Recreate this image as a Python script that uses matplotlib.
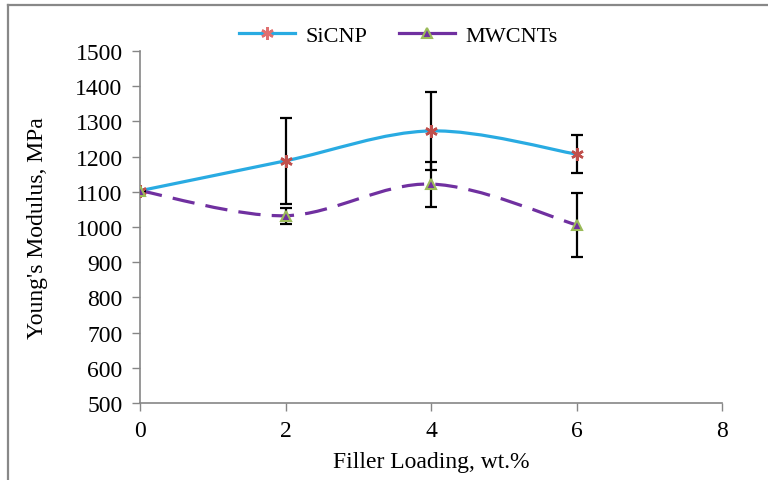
import matplotlib
matplotlib.use("Agg")
import matplotlib.pyplot as plt
from matplotlib.path import Path
from matplotlib.patches import PathPatch
from matplotlib.lines import Line2D

# ---- data ----
filler = [0, 2, 4, 6]
sicnp = [1103, 1188, 1273, 1207]
sicnp_err = [0, 122, 110, 55]
mwcnt = [1103, 1032, 1122, 1006]
mwcnt_err = [0, 23, 64, 90]
series_labels = ["SiCNP", "MWCNTs"]
xticks = [0, 2, 4, 6, 8]
yticks = list(range(500, 1501, 100))

plt.rcParams['font.family'] = ['Liberation Serif', 'DejaVu Serif']

W, H = 768, 481
fig = plt.figure(figsize=(W / 100, H / 100), dpi=100)
ax = fig.add_axes([140 / W, 1 - 404 / H, (722 - 140) / W, (404 - 52) / H])


def smooth_path(xs, ys):
    """Excel-style smoothed line: cubic Bezier through the data points."""
    verts = [(xs[0], ys[0])]
    codes = [Path.MOVETO]
    n = len(xs)
    for i in range(n - 1):
        x0, y0 = (xs[i - 1], ys[i - 1]) if i > 0 else (xs[i], ys[i])
        x1, y1 = xs[i], ys[i]
        x2, y2 = xs[i + 1], ys[i + 1]
        x3, y3 = (xs[i + 2], ys[i + 2]) if i + 2 < n else (xs[i + 1], ys[i + 1])
        c1 = (x1 + (x2 - x0) / 6, y1 + (y2 - y0) / 6)
        c2 = (x2 - (x3 - x1) / 6, y2 - (y3 - y1) / 6)
        verts += [c1, c2, (x2, y2)]
        codes += [Path.CURVE4] * 3
    return Path(verts, codes)


blue = "#29ABE2"
red = "#C0504D"
purple = "#7030A0"
green = "#9BBB59"
star = (6, 2, 0)
fs = 17

ax.add_patch(PathPatch(smooth_path(filler, sicnp), fill=False, edgecolor=blue,
                       lw=2.3, zorder=2))
ax.add_patch(PathPatch(smooth_path(filler, mwcnt), fill=False, edgecolor=purple,
                       lw=2.3, linestyle=(0, (7, 3.5)), zorder=2))

ax.errorbar(filler, sicnp, yerr=sicnp_err, fmt='none', ecolor='black',
            elinewidth=1.6, capsize=4, capthick=1.6, zorder=3)
ax.errorbar(filler, mwcnt, yerr=mwcnt_err, fmt='none', ecolor='black',
            elinewidth=1.6, capsize=4, capthick=1.6, zorder=3)

ax.plot(filler, sicnp, linestyle='none', marker=star, ms=9, mew=1.8,
        color=red, zorder=4)
ax.plot(filler, mwcnt, linestyle='none', marker='^', ms=7.5, mew=1.5,
        markerfacecolor=purple, markeredgecolor=green, zorder=4)

ax.set_xlim(0, 8)
ax.set_ylim(500, 1500)
ax.set_xticks(xticks)
ax.set_yticks(yticks)
ax.tick_params(axis='both', direction='out', length=5.5, width=1,
               color='#868686', labelsize=fs, labelcolor='black', pad=7)
for s in ['top', 'right']:
    ax.spines[s].set_visible(False)
for s in ['left', 'bottom']:
    ax.spines[s].set_color('#868686')
    ax.spines[s].set_linewidth(1.2)

ax.set_xlabel("Filler Loading, wt.%", fontsize=fs, labelpad=7)
ax.set_ylabel("Young's Modulus, MPa", fontsize=fs, labelpad=20)

handles = [
    Line2D([], [], color=blue, lw=2.3, marker=star, ms=9, mew=1.8,
           markeredgecolor="#E07070"),
    Line2D([], [], color=purple, lw=2.3, marker='^', ms=7.5, mew=1.5,
           markerfacecolor=purple, markeredgecolor=green),
]
fig.legend(handles, series_labels, loc='center', ncol=2, frameon=False,
           bbox_to_anchor=(0.519, 1 - 37 / H), fontsize=16,
           handlelength=2.5, columnspacing=1.4, handletextpad=0.5)

# outer border (top and left)
fig.add_artist(Line2D([8 / W, 1], [1 - 6 / H, 1 - 6 / H], color='#888888',
                      lw=1.6, transform=fig.transFigure))
fig.add_artist(Line2D([8 / W, 8 / W], [0, 1 - 6 / H], color='#888888',
                      lw=1.6, transform=fig.transFigure))

fig.savefig("out.png", dpi=100)
